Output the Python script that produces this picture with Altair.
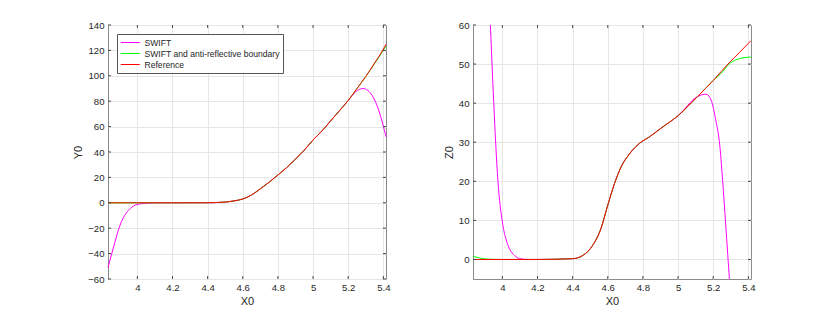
import altair as alt
import pandas as pd

# ---------------- data ----------------
series_names = ["SWIFT", "SWIFT and anti-reflective boundary", "Reference"]
series_colors = ["#ff00ff", "#00ff00", "#ff0000"]

x_ticks = [4.0, 4.2, 4.4, 4.6, 4.8, 5.0, 5.2, 5.4]
y_ticks_left = [-60, -40, -20, 0, 20, 40, 60, 80, 100, 120, 140]
z_ticks_right = [0, 10, 20, 30, 40, 50, 60]

# Left panel: Y0 against X0
ref_y_x = [3.833, 4.0, 4.2, 4.4, 4.45, 4.5, 4.55, 4.6, 4.65, 4.7, 4.75, 4.8, 4.85, 4.9,
           4.95, 5.0, 5.05, 5.1, 5.15, 5.2, 5.25, 5.3, 5.35, 5.4, 5.415]
ref_y_v = [0, 0, 0, 0.05, 0.2, 0.6, 1.5, 3.0, 6.2, 11.0, 16.2, 21.9, 27.8, 34.5,
           41.5, 49.5, 56.5, 64.5, 72.5, 80.6, 90.0, 99.5, 110.0, 121.0, 124.8]

ar_y_x = [3.833, 4.0, 4.2, 4.4, 4.45, 4.5, 4.55, 4.6, 4.65, 4.7, 4.75, 4.8, 4.85, 4.9,
          4.95, 5.0, 5.05, 5.1, 5.15, 5.2, 5.25, 5.3, 5.35, 5.4, 5.415]
ar_y_v = [0, 0, 0, 0.05, 0.2, 0.6, 1.5, 3.0, 6.2, 11.0, 16.2, 21.9, 27.8, 34.5,
          41.5, 49.5, 56.5, 64.5, 72.5, 80.6, 90.0, 99.4, 109.6, 120.2, 123.6]

sw_y_x = [3.833, 3.855, 3.874, 3.893, 3.92, 3.95, 3.99, 4.025, 4.06, 4.1, 4.2, 4.4, 4.45,
          4.5, 4.55, 4.6, 4.65, 4.7, 4.75, 4.8, 4.85, 4.9, 4.95, 5.0, 5.05, 5.1, 5.15,
          5.2, 5.243, 5.285, 5.338, 5.375, 5.415]
sw_y_v = [-51.0, -39.7, -30.2, -21.0, -11.8, -5.9, -1.7, -0.7, -0.2, 0, 0, 0.05, 0.2,
          0.6, 1.5, 3.0, 6.2, 11.0, 16.2, 21.9, 27.8, 34.5, 41.5, 49.5, 56.5, 64.5, 72.5,
          80.5, 87.5, 90.0, 84.1, 72.3, 52.0]

# Right panel: Z0 against X0
ref_z_x = [3.833, 4.0, 4.2, 4.4, 4.457, 4.514, 4.561, 4.6, 4.638, 4.676, 4.723, 4.78,
           4.838, 4.9, 5.0, 5.111, 5.2, 5.29, 5.35, 5.415]
ref_z_v = [0, 0, 0, 0.2, 1.0, 3.6, 7.9, 13.9, 19.4, 23.7, 27.0, 29.7,
           31.4, 33.5, 36.8, 41.7, 45.8, 50.3, 53.0, 56.0]

ar_z_x = [3.833, 3.87, 3.9, 3.95, 4.0, 4.2, 4.4, 4.457, 4.514, 4.561, 4.6, 4.638, 4.676,
          4.723, 4.78, 4.838, 4.9, 5.0, 5.111, 5.2, 5.253, 5.29, 5.33, 5.37, 5.415]
ar_z_v = [0.8, 0.4, 0.15, 0.03, 0, 0, 0.2, 1.0, 3.6, 7.9, 13.9, 19.4, 23.7,
          27.0, 29.7, 31.4, 33.5, 36.8, 41.7, 45.8, 48.0, 50.0, 51.1, 51.6, 51.8]

sw_z_x = [3.9, 3.932, 3.951, 3.975, 4.0, 4.02, 4.041, 4.07, 4.098, 4.15, 4.2, 4.4, 4.457,
          4.514, 4.561, 4.6, 4.638, 4.676, 4.723, 4.78, 4.838, 4.9, 5.0, 5.111, 5.14,
          5.159, 5.187, 5.216, 5.235, 5.254, 5.27, 5.283, 5.292, 5.3]
sw_z_v = [95.0, 60.0, 40.0, 20.0, 9.6, 5.3, 2.7, 1.0, 0.2, 0, 0, 0.2, 1.0,
          3.6, 7.9, 13.9, 19.4, 23.7, 27.0, 29.7, 31.4, 33.5, 36.8, 41.7, 42.2,
          42.3, 40.9, 35.3, 30.2, 19.9, 9.6, 1.0, -5.0, -12.0]

# ---------------- styling ----------------
W, H = 278, 254
FONT = "Liberation Sans"
TXT = "#262626"
X_DOMAIN = [3.833, 5.415]


def frame(xs, ys, name, yname):
    return pd.DataFrame({"X0": xs, yname: ys, "series": name})


def panel(yname, frames, y_domain, y_ticks, show_legend, clip):
    data = pd.concat(frames, ignore_index=True)
    xs = alt.Scale(domain=X_DOMAIN, nice=False, zero=False)
    ys = alt.Scale(domain=y_domain, nice=False, zero=False)
    x_axis = alt.Axis(values=x_ticks, format="~g", title="X0", ticks=False, domain=False,
                      labelFlush=False, labelPadding=3, titlePadding=4)
    y_axis = alt.Axis(values=y_ticks, format="d", title=yname, ticks=False, domain=False,
                      labelPadding=4, titlePadding=4)
    legend = (alt.Legend(orient="none", legendX=9, legendY=9, title=None,
                         symbolType="M-1,0L3,0", symbolSize=90, symbolStrokeWidth=1,
                         labelFontSize=8.6, labelColor=TXT, labelFont=FONT,
                         labelOffset=13.5, strokeColor="#555555", fillColor="white",
                         padding=3, rowPadding=0)
              if show_legend else None)
    color = alt.Color("series:N", scale=alt.Scale(domain=series_names, range=series_colors),
                      legend=legend)
    layers = []
    for name in series_names:
        layers.append(
            alt.Chart(data).transform_filter(alt.datum.series == name)
            .mark_line(strokeWidth=1, clip=clip, interpolate="monotone")
            .encode(x=alt.X("X0:Q", scale=xs, axis=x_axis),
                    y=alt.Y(f"{yname}:Q", scale=ys, axis=y_axis),
                    color=color, order=alt.Order("X0:Q"))
        )
    xt = pd.DataFrame({"X0": x_ticks})
    yt = pd.DataFrame({yname: y_ticks})
    tk = dict(color="#444444", strokeWidth=1)
    layers += [
        alt.Chart(xt).mark_rule(**tk).encode(x=alt.X("X0:Q", scale=xs, axis=x_axis),
                                             y=alt.value(H), y2=alt.value(H - 3)),
        alt.Chart(xt).mark_rule(**tk).encode(x=alt.X("X0:Q", scale=xs, axis=x_axis),
                                             y=alt.value(0), y2=alt.value(3)),
        alt.Chart(yt).mark_rule(**tk).encode(y=alt.Y(f"{yname}:Q", scale=ys, axis=y_axis),
                                             x=alt.value(0), x2=alt.value(3)),
        alt.Chart(yt).mark_rule(**tk).encode(y=alt.Y(f"{yname}:Q", scale=ys, axis=y_axis),
                                             x=alt.value(W - 3), x2=alt.value(W)),
    ]
    return alt.layer(*layers).properties(width=W, height=H)


left = panel("Y0",
             [frame(sw_y_x, sw_y_v, series_names[0], "Y0"),
              frame(ar_y_x, ar_y_v, series_names[1], "Y0"),
              frame(ref_y_x, ref_y_v, series_names[2], "Y0")],
             [-60, 140], y_ticks_left, True, False)
right = panel("Z0",
              [frame(sw_z_x, sw_z_v, series_names[0], "Z0"),
               frame(ar_z_x, ar_z_v, series_names[1], "Z0"),
               frame(ref_z_x, ref_z_v, series_names[2], "Z0")],
              [-5, 60], z_ticks_right, False, True)

chart = (
    alt.hconcat(left, right, spacing=51)
    .resolve_scale(color="independent")
    .properties(padding={"left": 64, "top": 11, "right": 10, "bottom": 5}, background="white")
    .configure_view(stroke="#8a8a8a", strokeWidth=1)
    .configure_axis(grid=True, gridColor="#e6e6e6", gridWidth=1, labelFont=FONT,
                    labelFontSize=9.6, labelColor=TXT, titleFont=FONT, titleFontSize=11,
                    titleFontWeight="normal", titleColor=TXT)
)

chart.save("out.html", embed_options={"renderer": "svg", "actions": False})
